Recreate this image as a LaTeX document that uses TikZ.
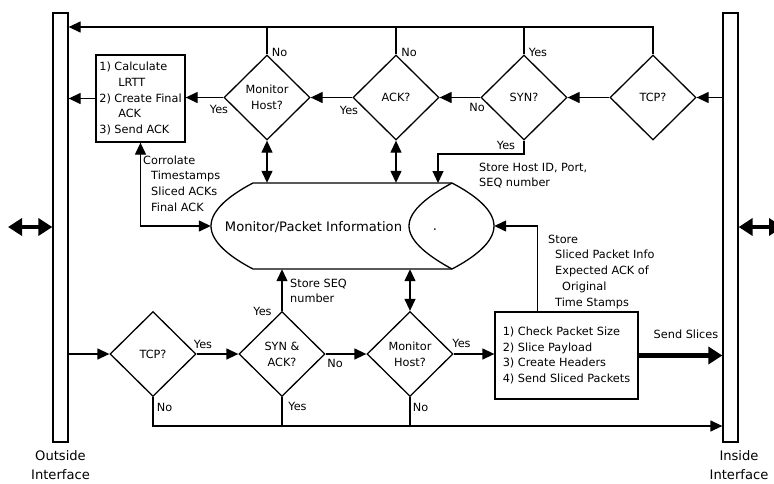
\documentclass[tikz,border=0pt]{standalone}
\usepackage{fontspec}
\setmainfont{DejaVu Sans}
\usetikzlibrary{arrows.meta,shapes.geometric}
\newcommand\fsm{\fontsize{11.3}{15.8}\selectfont}
\newcommand\fbig{\fontsize{13.1}{19}\selectfont}
\tikzset{
  ln/.style={line width=1.3pt},
  arr/.style={ln,-{Triangle[length=12pt,width=11pt]}},
  arrboth/.style={ln,{Triangle[length=12pt,width=11pt]}-{Triangle[length=12pt,width=11pt]}},
  fatarr/.style={line width=4.5pt,-{Triangle[length=14pt,width=17pt]}},
  fatboth/.style={line width=4.5pt,{Triangle[length=14pt,width=17pt]}-{Triangle[length=14pt,width=17pt]}},
  dec/.style={draw,diamond,ln,minimum width=86pt,minimum height=85pt,inner sep=0pt,align=center,font=\fsm},
  box/.style={draw,rectangle,ln,inner sep=0pt,align=left,font=\fsm},
  lbl/.style={inner sep=0pt,font=\fsm},
  mlbl/.style={inner sep=0pt,align=left,font=\fsm,anchor=base west},
  bar/.style={draw,ln,rectangle,minimum width=15pt,minimum height=429pt,inner sep=0pt},
}
\begin{document}
\begin{tikzpicture}[x=1pt,y=-1pt]
\useasboundingbox (0,0) rectangle (774,483);
\clip (0,0) rectangle (774,483);
% interface bars
\node[bar] (outside) at (60.5,227.5) {};
\node[bar] (inside) at (730.5,227.5) {};
\node[font=\fbig,align=center,inner sep=0pt,anchor=base] (outlbl) at (60.5,479.5) {Outside\\Interface};
\node[font=\fbig,align=center,inner sep=0pt,anchor=base] (inlbl) at (739,479.5) {Inside\\Interface};
\coordinate (lfree) at (8,227);
\coordinate (rfree) at (783,227);
\draw[fatboth] (lfree) -- (lfree -| outside.west);
\draw[fatboth] (rfree -| inside.east) -- (rfree);
% helper levels
\coordinate (ytop) at (0,27);
\coordinate (ybot) at (0,426);
\coordinate (ysyn) at (0,154);
% top row
\node[dec] (tcpT) at (653,97.5) {TCP?};
\node[dec] (synT) at (524,97.5) {SYN?};
\node[dec] (ackT) at (396,97.5) {ACK?};
\node[dec] (mhT) at (267,97.5) {Monitor\\Host?};
\node[box,minimum width=89pt,minimum height=87pt] (calc) at (140.5,98.5)
  {1) Calculate\\\hspace*{19pt}LRTT\\2) Create Final\\\hspace*{19pt}ACK\\3) Send ACK};
% central store
\node[minimum width=283pt,minimum height=86pt,inner sep=0pt] (mem) at (352.5,226) {};
\draw[ln] (253,183) -- (452,183) .. controls (475,195) and (494,210) .. (494,226)
  .. controls (494,242) and (475,257) .. (452,269) -- (253,269)
  .. controls (230,257) and (211,242) .. (211,226)
  .. controls (211,210) and (230,195) .. (253,183) -- cycle;
\draw[ln] (452,183) .. controls (430,195) and (409,210) .. (409,226)
  .. controls (409,242) and (430,257) .. (452,269);
\node[font=\fbig,inner sep=0pt] (memtxt) at (313.5,227) {Monitor/Packet Information};
\node[font=\fbig,inner sep=0pt] (memdot) at (435,230) {.};
\coordinate (memin) at (438,183);
% bottom row
\node[dec] (tcpB) at (153,354) {TCP?};
\node[dec] (sa) at (282,354) {SYN \&\\ACK?};
\node[dec] (mhB) at (410,354) {Monitor\\Host?};
\node[box,minimum width=143pt,minimum height=87pt] (slice) at (566.5,355.5)
  {1) Check Packet Size\\2) Slice Payload\\3) Create Headers\\4) Send Sliced Packets};
% top row connectors
\draw[arr] (tcpT.east -| inside.west) -- (tcpT.east);
\draw[arr] (tcpT.west) -- (synT.east);
\draw[arr] (synT.west) -- (ackT.east);
\draw[arr] (ackT.west) -- (mhT.east);
\draw[arr] (mhT.west) -- (mhT.west -| calc.east);
\draw[arr] (calc.west) -- (calc.west -| outside.east);
\draw[arr] (tcpT.north) |- (ytop -| outside.east);
\draw[ln] (synT.north) -- (synT.north |- ytop);
\draw[ln] (ackT.north) -- (ackT.north |- ytop);
\draw[ln] (mhT.north) -- (mhT.north |- ytop);
\draw[arrboth] (mhT.south) -- (mhT.south |- mem.north);
\draw[arrboth] (ackT.south) -- (ackT.south |- mem.north);
\draw[arr] (synT.south) |- (ysyn -| memin) -- (memin);
\draw[arrboth] (calc.south) |- (mem.west);
% bottom row connectors
\draw[arr] (tcpB.west -| outside.east) -- (tcpB.west);
\draw[arr] (tcpB.east) -- (sa.west);
\draw[arr] (sa.east) -- (mhB.west);
\draw[arr] (mhB.east) -- (mhB.east -| slice.west);
\draw[arr] (sa.north) -- (sa.north |- mem.south);
\draw[arrboth] (mhB.north) -- (mhB.north |- mem.south);
\draw[arr] ([xshift=43pt]slice.north west) |- (mem.east);
\draw[fatarr] (slice.east) -- (slice.east -| inside.west);
\draw[arr] (tcpB.south) |- (ybot -| inside.west);
\draw[ln] (sa.south) -- (sa.south |- ybot);
\draw[ln] (mhB.south) -- (mhB.south |- ybot);
% labels top
\node[lbl] (l1) at (279.5,52) {No};
\node[lbl] (l2) at (409,52) {No};
\node[lbl] (l3) at (538,52) {Yes};
\node[lbl] (l4) at (477,107) {No};
\node[lbl] (l5) at (349,110) {Yes};
\node[lbl] (l6) at (219,109) {Yes};
\node[lbl] (l7) at (506,145) {Yes};
\node[mlbl] (t1) at (479,186.8) {Store Host ID, Port,\\SEQ number};
\node[mlbl] (t2) at (143,211.4) {Corrolate\\\hspace*{8pt}Timestamps\\\hspace*{8pt}Sliced ACKs\\\hspace*{8pt}Final ACK};
\node[mlbl] (t3) at (290,302.8) {Store SEQ\\number};
\node[mlbl] (t4) at (548,306.2) {Store\\\hspace*{7pt}Sliced Packet Info\\\hspace*{7pt}Expected ACK of\\\hspace*{14pt}Original\\\hspace*{7pt}Time Stamps};
% labels bottom
\node[lbl] (b1) at (203,344) {Yes};
\node[lbl] (b2) at (164.5,407) {No};
\node[lbl] (b3) at (262.5,311) {Yes};
\node[lbl] (b4) at (335,363) {No};
\node[lbl] (b5) at (297.5,406) {Yes};
\node[lbl] (b6) at (461.5,343) {Yes};
\node[lbl] (b7) at (420.5,407) {No};
\node[lbl] (b8) at (686,334) {Send Slices};
\end{tikzpicture}
\end{document}
